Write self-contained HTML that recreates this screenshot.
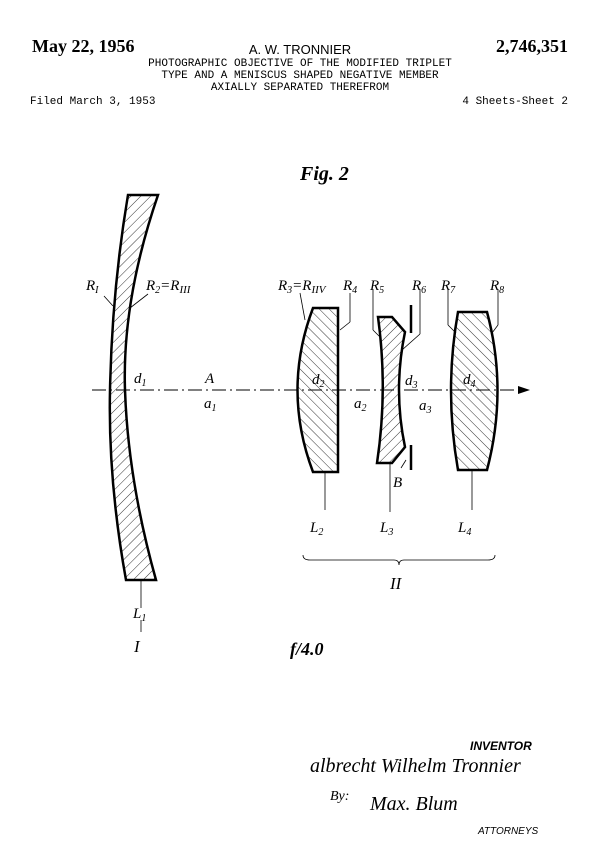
<!DOCTYPE html>
<html><head><meta charset="utf-8"><style>
html,body{margin:0;padding:0;background:#fff}
svg{display:block}
.s{font-family:"Liberation Serif",serif;font-style:italic}
.m{font-family:"Liberation Mono",monospace;font-size:11px}
</style></head><body>
<svg width="600" height="864" viewBox="0 0 600 864" xmlns="http://www.w3.org/2000/svg">
<defs>
<pattern id="h1" patternUnits="userSpaceOnUse" width="7" height="7" patternTransform="rotate(45)"><line x1="0" y1="0" x2="0" y2="7" stroke="#000" stroke-width="0.8"/></pattern>
<pattern id="h2" patternUnits="userSpaceOnUse" width="7" height="7" patternTransform="rotate(-45)"><line x1="0" y1="0" x2="0" y2="7" stroke="#000" stroke-width="0.8"/></pattern>
</defs>
<rect width="600" height="864" fill="#fff"/>
<text x="32" y="52" font-family="Liberation Serif,serif" font-weight="bold" font-size="18">May 22, 1956</text>
<text x="300" y="54" text-anchor="middle" font-family="Liberation Sans,sans-serif" font-size="13">A. W. TRONNIER</text>
<text x="568" y="52" text-anchor="end" font-family="Liberation Serif,serif" font-weight="bold" font-size="18">2,746,351</text>
<text class="m" x="300" y="66" text-anchor="middle">PHOTOGRAPHIC OBJECTIVE OF THE MODIFIED TRIPLET</text>
<text class="m" x="300" y="78" text-anchor="middle">TYPE AND A MENISCUS SHAPED NEGATIVE MEMBER</text>
<text class="m" x="300" y="90" text-anchor="middle">AXIALLY SEPARATED THEREFROM</text>
<text class="m" x="30" y="104">Filed March 3, 1953</text>
<text class="m" x="568" y="104" text-anchor="end">4 Sheets-Sheet 2</text>
<text class="s" x="300" y="180" font-size="20" font-weight="bold">Fig. 2</text>

<!-- axis -->
<line x1="92" y1="390" x2="522" y2="390" stroke="#000" stroke-width="1" stroke-dasharray="14,4,2,4"/>
<path d="M518 386 L530 390 L518 394 Z" fill="#000"/>

<!-- L1 -->
<path d="M128 195 L158 195 Q122 300 125 390 Q128 480 156 580 L126 580 Q108 480 110 390 Q112 290 128 195 Z" fill="url(#h1)" stroke="#000" stroke-width="2.5"/>
<!-- L2 -->
<path d="M313 308 L338 308 L338 472 L313 472 Q282 390 313 308 Z" fill="url(#h2)" stroke="#000" stroke-width="2.5"/>
<!-- L3 -->
<path d="M378 317 L392 317 L405 332 Q393 390 405 447 L392 463 L377 463 Q388 390 378 317 Z" fill="url(#h1)" stroke="#000" stroke-width="2.5"/>
<line x1="411" y1="305" x2="411" y2="333" stroke="#000" stroke-width="2.5"/>
<line x1="411" y1="445" x2="411" y2="470" stroke="#000" stroke-width="2.5"/>
<!-- L4 -->
<path d="M458 312 L487 312 Q508 390 487 470 L458 470 Q444 390 458 312 Z" fill="url(#h2)" stroke="#000" stroke-width="2.5"/>

<!-- leader lines -->
<g stroke="#000" stroke-width="0.8" fill="none">
<line x1="104" y1="296" x2="113" y2="306"/>
<line x1="148" y1="294" x2="130" y2="308"/>
<line x1="300" y1="293" x2="305" y2="320"/>
<line x1="350" y1="293" x2="350" y2="322" /><line x1="350" y1="322" x2="340" y2="330"/>
<line x1="373" y1="290" x2="373" y2="330"/><line x1="373" y1="330" x2="381" y2="338"/>
<line x1="420" y1="290" x2="420" y2="334"/><line x1="420" y1="334" x2="402" y2="350"/>
<line x1="448" y1="290" x2="448" y2="325"/><line x1="448" y1="325" x2="456" y2="333"/>
<line x1="498" y1="290" x2="498" y2="325"/><line x1="498" y1="325" x2="492" y2="333"/>
<line x1="325" y1="472" x2="325" y2="510"/>
<line x1="390" y1="463" x2="390" y2="512"/>
<line x1="472" y1="470" x2="472" y2="510"/>
<line x1="141" y1="580" x2="141" y2="608"/>
<line x1="141" y1="620" x2="141" y2="632"/>
<line x1="401" y1="468" x2="406" y2="460"/>
<path d="M303 555 Q303 560 310 560 L394 560 Q399 560 399 565 Q399 560 404 560 L488 560 Q495 560 495 555"/>
</g>

<g class="s" font-size="15">
<text x="86" y="290">R<tspan font-size="10" dy="3">I</tspan></text>
<text x="146" y="290">R<tspan font-size="10" dy="3">2</tspan><tspan dy="-3">=R</tspan><tspan font-size="11" dy="3">I</tspan><tspan font-size="11" dy="0">II</tspan></text>
<text x="278" y="290">R<tspan font-size="10" dy="3">3</tspan><tspan dy="-3">=R</tspan><tspan font-size="11" dy="3">IIV</tspan></text>
<text x="343" y="290">R<tspan font-size="10" dy="3">4</tspan></text>
<text x="370" y="290">R<tspan font-size="10" dy="3">5</tspan></text>
<text x="412" y="290">R<tspan font-size="10" dy="3">6</tspan></text>
<text x="441" y="290">R<tspan font-size="10" dy="3">7</tspan></text>
<text x="490" y="290">R<tspan font-size="10" dy="3">8</tspan></text>
<text x="134" y="383">d<tspan font-size="10" dy="3">1</tspan></text>
<text x="205" y="383">A</text>
<text x="204" y="408">a<tspan font-size="10" dy="3">1</tspan></text>
<text x="312" y="384">d<tspan font-size="10" dy="3">2</tspan></text>
<text x="354" y="408">a<tspan font-size="10" dy="3">2</tspan></text>
<text x="405" y="385">d<tspan font-size="10" dy="3">3</tspan></text>
<text x="419" y="410">a<tspan font-size="10" dy="3">3</tspan></text>
<text x="463" y="384">d<tspan font-size="10" dy="3">4</tspan></text>
<text x="393" y="487">B</text>
<text x="310" y="532">L<tspan font-size="10" dy="3">2</tspan></text>
<text x="380" y="532">L<tspan font-size="10" dy="3">3</tspan></text>
<text x="458" y="532">L<tspan font-size="10" dy="3">4</tspan></text>
<text x="390" y="589" font-size="17">II</text>
<text x="133" y="618">L<tspan font-size="10" dy="3">1</tspan></text>
<text x="134" y="652" font-size="17">I</text>
<text x="290" y="655" font-size="18" font-weight="bold">f/4.0</text>
</g>

<text x="470" y="750" font-family="Liberation Sans,sans-serif" font-style="italic" font-weight="bold" font-size="12">INVENTOR</text>
<text x="310" y="772" class="s" font-size="20">albrecht Wilhelm Tronnier</text>
<text x="330" y="800" class="s" font-size="14">By:</text>
<text x="370" y="810" class="s" font-size="20">Max. Blum</text>
<text x="478" y="834" font-family="Liberation Sans,sans-serif" font-style="italic" font-size="10">ATTORNEYS</text>
</svg>
</body></html>
